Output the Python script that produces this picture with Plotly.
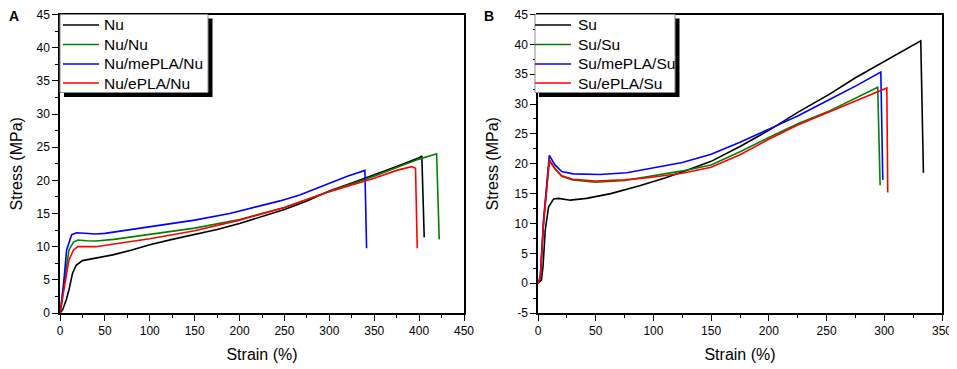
import plotly.graph_objects as go

# ---------------- data (panel A: Nu series) ----------------
nu_x = [0, 3, 7, 10, 14, 18, 25, 40, 60, 80, 100, 125, 150, 175, 200, 225, 250, 275, 300, 325, 350, 375, 400, 403, 405.7]
nu_y = [0, 0.5, 2, 3.5, 6, 7.2, 7.9, 8.3, 8.8, 9.5, 10.3, 11.1, 11.8, 12.6, 13.5, 14.6, 15.6, 16.9, 18.4, 19.6, 20.8, 22.1, 23.4, 23.7, 11.4]

nunu_x = [0, 2, 5, 10, 15, 20, 30, 40, 60, 80, 100, 150, 200, 250, 300, 350, 380, 400, 419.5, 422.4]
nunu_y = [0, 1.5, 5, 9.5, 10.7, 11.0, 10.9, 10.85, 11.1, 11.5, 11.8, 12.8, 14.1, 15.9, 18.3, 20.6, 22.2, 23.2, 24.0, 11.1]

numepla_x = [0, 2, 3.7, 7.4, 13, 18.6, 30, 40, 50, 75, 100, 150, 189, 212, 245, 267, 300, 320, 339.6, 341.5]
numepla_y = [0, 2, 4, 9.5, 11.8, 12.1, 12.0, 11.9, 12.0, 12.5, 13.0, 14.0, 15.0, 15.8, 16.9, 17.8, 19.6, 20.6, 21.5, 9.75]

nuepla_x = [0, 2, 5, 10, 15, 20, 30, 40, 60, 80, 100, 150, 200, 250, 300, 350, 375, 391.6, 396, 397.9]
nuepla_y = [0, 1.5, 4, 8, 9.5, 10, 10, 10.0, 10.4, 10.8, 11.2, 12.4, 14.0, 15.9, 18.3, 20.3, 21.5, 22.07, 21.8, 9.75]

# ---------------- data (panel B: Su series) ----------------
su_x = [0, 3, 4.3, 6.3, 9.2, 13.5, 17.9, 28, 42, 63, 88, 110, 132, 150, 175, 200, 225, 253, 275, 300, 331.6, 333.9]
su_y = [0, 0.5, 2.7, 8.9, 12.8, 14.1, 14.2, 13.9, 14.2, 15.0, 16.3, 17.6, 19.1, 20.4, 22.9, 25.6, 28.6, 31.7, 34.4, 37.2, 40.6, 18.5]

susu_x = [0, 2, 4.8, 7.6, 9.8, 14.7, 20.5, 30, 50, 75, 97, 125, 150, 175, 200, 225, 253, 275, 294.3, 296.4]
susu_y = [0, 1, 10, 16.5, 20.5, 19.1, 17.9, 17.3, 16.9, 17.2, 17.9, 18.8, 19.8, 22.0, 24.4, 26.7, 28.9, 31.0, 32.8, 16.4]

sumepla_x = [0, 2, 4.8, 7.6, 9.8, 14.7, 20.5, 30.6, 53.7, 76.9, 97, 125, 150, 175, 200, 225, 253, 275, 297, 298.7]
sumepla_y = [0, 1, 10.6, 17, 21.4, 19.8, 18.7, 18.3, 18.2, 18.5, 19.2, 20.2, 21.6, 23.6, 25.8, 28.0, 30.8, 33.0, 35.35, 17.3]

suepla_x = [0, 2, 4.8, 7.6, 9.8, 14.7, 20.5, 30, 50, 75, 97, 125, 150, 175, 200, 225, 253, 275, 302.2, 303]
suepla_y = [0, 1, 10, 16.5, 20.7, 19.2, 18.0, 17.4, 17.1, 17.3, 17.7, 18.4, 19.4, 21.5, 24.1, 26.5, 28.8, 30.5, 32.7, 15.2]

names_a = ["Nu", "Nu/Nu", "Nu/mePLA/Nu", "Nu/ePLA/Nu"]
names_b = ["Su", "Su/Su", "Su/mePLA/Su", "Su/ePLA/Su"]
colors = ["#000000", "#008000", "#0000ff", "#ff0000"]

yb_tickvals = [-5, 0, 5, 10, 15, 20, 25, 30, 35, 40, 45]
yb_ticktext = ["-5", "0", "5", "10", "15", "20", "25", "30", "35", "40", "45"]

# ---------------- figure ----------------
OFF = 8                      # page body margin of the html
W, H = 957 - OFF, 369 - OFF  # figure size so that it fills the window
FONT = "Liberation Sans, Arial, sans-serif"

def px_x(p):
    return (p - OFF) / W

def px_y(p):
    return 1 - (p - OFF) / H

fig = go.Figure()

series_a = [(nu_x, nu_y), (nunu_x, nunu_y), (numepla_x, numepla_y), (nuepla_x, nuepla_y)]
series_b = [(su_x, su_y), (susu_x, susu_y), (sumepla_x, sumepla_y), (suepla_x, suepla_y)]

for (x, y), n, c in zip(series_a, names_a, colors):
    fig.add_trace(go.Scatter(x=x, y=y, name=n, mode="lines",
                             line=dict(color=c, width=1.6),
                             xaxis="x", yaxis="y", showlegend=False))
for (x, y), n, c in zip(series_b, names_b, colors):
    fig.add_trace(go.Scatter(x=x, y=y, name=n, mode="lines",
                             line=dict(color=c, width=1.6),
                             xaxis="x2", yaxis="y2", showlegend=False))

axis_common = dict(showline=True, linecolor="black", linewidth=1.5, mirror=True,
                   ticks="outside", ticklen=6, tickwidth=1.3, tickcolor="black",
                   showgrid=False, zeroline=False, automargin=False,
                   ticklabeloverflow="allow",
                   tickfont=dict(family=FONT, size=12, color="black"))

ya_top, ya_bot = 14.5, 313
fig.update_layout(
    width=W, height=H,
    margin=dict(l=0, r=0, t=0, b=0),
    paper_bgcolor="white", plot_bgcolor="white",
    font=dict(family=FONT, color="black"),
    showlegend=False,
    xaxis=dict(domain=[px_x(60), px_x(464)], range=[0, 450], dtick=50, anchor="y",
               minor=dict(ticks="outside", ticklen=3.5, dtick=25, tickcolor="black"),
               title=dict(text="Strain (%)", font=dict(size=16, family=FONT), standoff=12),
               **axis_common),
    yaxis=dict(domain=[px_y(ya_bot), px_y(ya_top)], range=[0, 45], dtick=5, anchor="x",
               minor=dict(ticks="outside", ticklen=3.5, dtick=2.5, tickcolor="black"),
               title=dict(text="Stress (MPa)", font=dict(size=16, family=FONT), standoff=12),
               **axis_common),
    xaxis2=dict(domain=[px_x(538), px_x(942)], range=[0, 350], dtick=50, anchor="y2",
                minor=dict(ticks="outside", ticklen=3.5, dtick=25, tickcolor="black"),
                title=dict(text="Strain (%)", font=dict(size=16, family=FONT), standoff=12),
                **axis_common),
    yaxis2=dict(domain=[px_y(ya_bot), px_y(ya_top)], range=[-5, 45], anchor="x2",
                tickmode="array", tickvals=yb_tickvals, ticktext=yb_ticktext,
                minor=dict(ticks="outside", ticklen=3.5, dtick=2.5, tickcolor="black"),
                title=dict(text="Stress (MPa)", font=dict(size=16, family=FONT), standoff=12),
                **axis_common),
)

# ---------------- legends (box + drop shadow + samples + labels) ----------------
legend_boxes = [
    # box left, top, right, bottom, sample x0, sample x1, text x, names
    (60, 14.5, 208, 92.5, 63, 99, 102, names_a),
    (535, 14.5, 675, 92.5, 535, 571, 575.5, names_b),
]
row_y = [25, 44.5, 64, 83]
for bx0, by0, bx1, by1, sx0, sx1, tx, names in legend_boxes:
    fig.add_shape(type="rect", xref="paper", yref="paper",
                  x0=px_x(bx0 + 4), x1=px_x(bx1 + 4.5), y0=px_y(by1 + 4.5), y1=px_y(by0 + 4),
                  fillcolor="black", line=dict(width=0), layer="above")
    fig.add_shape(type="rect", xref="paper", yref="paper",
                  x0=px_x(bx0), x1=px_x(bx1), y0=px_y(by1), y1=px_y(by0),
                  fillcolor="white", line=dict(color="#8c8c8c", width=1), layer="above")
    for ry, n, c in zip(row_y, names, colors):
        fig.add_shape(type="line", xref="paper", yref="paper",
                      x0=px_x(sx0), x1=px_x(sx1), y0=px_y(ry), y1=px_y(ry),
                      line=dict(color=c, width=1.6), layer="above")
        fig.add_annotation(text=n, xref="paper", yref="paper",
                           x=px_x(tx), y=px_y(ry), showarrow=False,
                           xanchor="left", yanchor="middle",
                           font=dict(size=15.5, family=FONT, color="black"))

# panel labels (left edge of the figure is 8 px into the page)
for txt, xl in [("A", OFF), ("B", 483)]:
    fig.add_annotation(text="<b>%s</b>" % txt, xref="paper", yref="paper",
                       x=px_x(xl), y=px_y(16.5), showarrow=False,
                       xanchor="left", yanchor="middle", borderpad=0,
                       font=dict(size=14, family=FONT, color="black"))

fig.write_html("out.html")
